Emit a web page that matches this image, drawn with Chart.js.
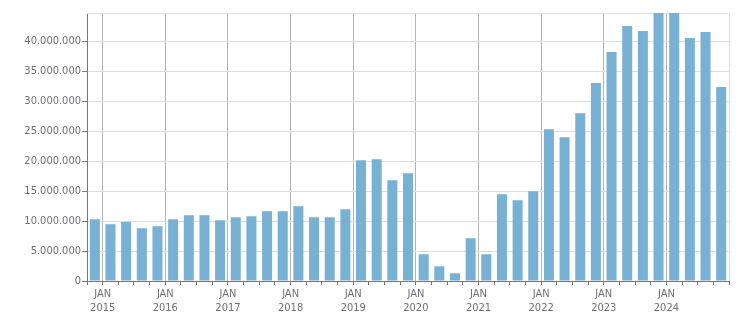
<!DOCTYPE html>
<html>
<head>
<meta charset="utf-8">
<script src="https://cdn.jsdelivr.net/npm/chart.js@4"></script>
<style>
    html, body { margin: 0; padding: 0; background: #fff; }
    #wrap { width: 751px; height: 313px; position: relative; }
</style>
</head>
<body>
<div id="wrap"><canvas id="myChart"></canvas></div>
<script>
// quarters shown on the x axis (one bar each)
const quarters = [
    '2014 Q4',
    '2015 Q1', '2015 Q2', '2015 Q3', '2015 Q4',
    '2016 Q1', '2016 Q2', '2016 Q3', '2016 Q4',
    '2017 Q1', '2017 Q2', '2017 Q3', '2017 Q4',
    '2018 Q1', '2018 Q2', '2018 Q3', '2018 Q4',
    '2019 Q1', '2019 Q2', '2019 Q3', '2019 Q4',
    '2020 Q1', '2020 Q2', '2020 Q3', '2020 Q4',
    '2021 Q1', '2021 Q2', '2021 Q3', '2021 Q4',
    '2022 Q1', '2022 Q2', '2022 Q3', '2022 Q4',
    '2023 Q1', '2023 Q2', '2023 Q3', '2023 Q4',
    '2024 Q1', '2024 Q2', '2024 Q3', '2024 Q4'
];

// values
const values = [
    10300000,
    9470000, 9850000, 8800000, 9130000,
    10300000, 10970000, 10970000, 10130000,
    10630000, 10800000, 11640000, 11640000,
    12470000, 10630000, 10630000, 11970000,
    20150000, 20320000, 16810000, 17980000,
    4460000, 2450000, 1290000, 7130000,
    4460000, 14470000, 13470000, 14970000,
    25330000, 23990000, 27990000, 33010000,
    38180000, 42520000, 41690000, 45200000,
    45000000, 40520000, 41520000, 32340000
];

const yTicks = [0, 5000000, 10000000, 15000000, 20000000, 25000000, 30000000, 35000000, 40000000];
const yMax = 44700000;
const monthLabel = 'JAN';

function fmt(n) {
    return String(n).replace(/\B(?=(\d{3})+(?!\d))/g, '.');
}

// a year starts at the left edge of every "Q1" bar
function isYearStart(i) {
    return quarters[i] !== undefined && quarters[i].endsWith('Q1');
}

// light frame on top and right of the plot
const framePlugin = {
    id: 'frame',
    beforeDatasetsDraw(chart) {
        const a = chart.chartArea;
        const ctx = chart.ctx;
        ctx.save();
        ctx.strokeStyle = '#dddddd';
        ctx.lineWidth = 1;
        ctx.beginPath();
        ctx.moveTo(a.left, Math.round(a.top) + 0.5);
        ctx.lineTo(Math.round(a.right) + 0.5, Math.round(a.top) + 0.5);
        ctx.lineTo(Math.round(a.right) + 0.5, a.bottom);
        ctx.stroke();
        ctx.restore();
    }
};

const textColor = '#6e6e78';
const axisColor = '#787878';

new Chart(document.getElementById('myChart'), {
    type: 'bar',
    data: {
        labels: quarters,
        datasets: [{
            data: values,
            backgroundColor: '#78b1d3',
            borderWidth: 0,
            barPercentage: 0.64,
            categoryPercentage: 1
        }]
    },
    plugins: [framePlugin],
    options: {
        responsive: true,
        maintainAspectRatio: false,
        animation: false,
        layout: { padding: { top: 13, right: 22, left: 0, bottom: 0 } },
        plugins: {
            legend: { display: false },
            tooltip: { enabled: false }
        },
        scales: {
            x: {
                offset: true,
                grid: {
                    offset: true,
                    color: ctx => isYearStart(ctx.index) ? '#b4b4b4' : 'rgba(0,0,0,0)',
                    tickColor: axisColor,
                    tickLength: 4
                },
                border: { color: axisColor },
                ticks: {
                    autoSkip: false,
                    maxRotation: 0,
                    minRotation: 0,
                    padding: 3,
                    labelOffset: -7.8,
                    color: textColor,
                    font: { family: 'DejaVu Sans Condensed', size: 11 },
                    callback: (v, i) => isYearStart(i) ? [monthLabel, quarters[i].slice(0, 4)] : ''
                },
                afterFit: s => { s.height = 32; }
            },
            y: {
                min: 0,
                max: yMax,
                afterBuildTicks: s => { s.ticks = yTicks.map(v => ({ value: v })); },
                grid: {
                    color: '#dedede',
                    tickColor: axisColor,
                    tickLength: 5
                },
                border: { color: axisColor },
                ticks: {
                    padding: 1,
                    color: textColor,
                    font: { family: 'DejaVu Sans Condensed', size: 11 },
                    callback: v => fmt(v)
                },
                afterFit: s => { s.width = 87; }
            }
        }
    }
});
</script>
</body>
</html>
